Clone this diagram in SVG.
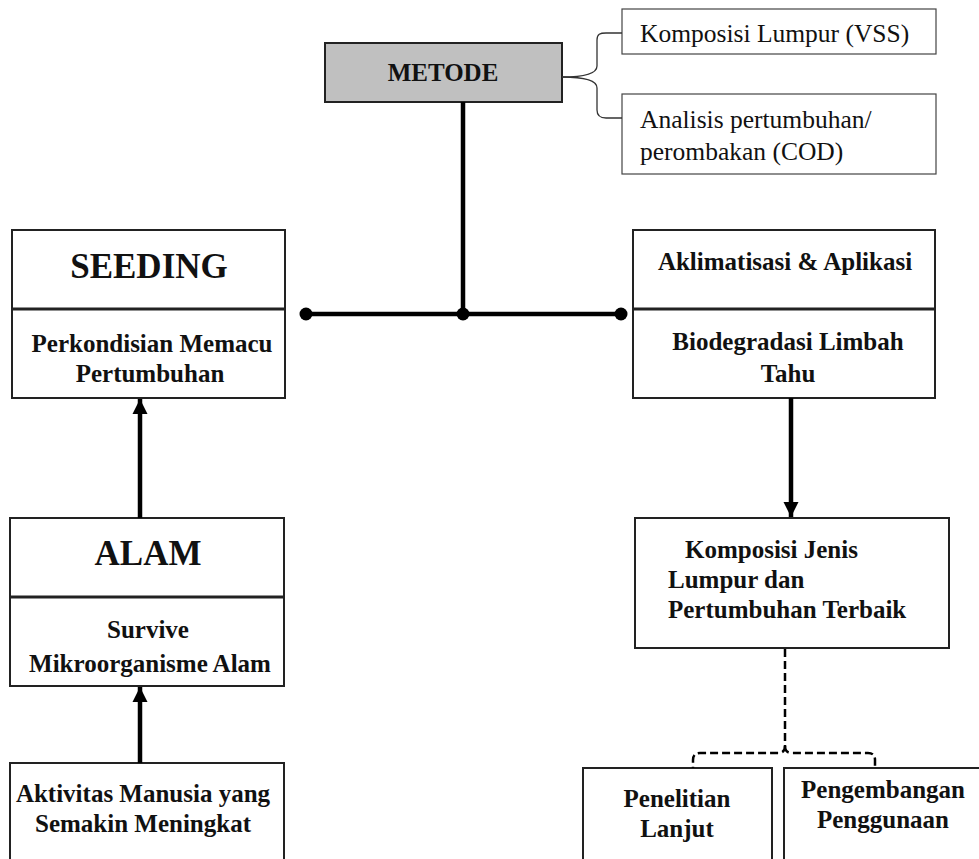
<svg xmlns="http://www.w3.org/2000/svg" width="979" height="859" viewBox="0 0 979 859">
<style>
.box{fill:#fff;stroke:#222;stroke-width:2}
.thin{fill:#fff;stroke:#444;stroke-width:1.2}
.b{font-family:"Liberation Serif","Times New Roman",serif;font-weight:bold;font-size:25px;fill:#111}
.big{font-family:"Liberation Serif","Times New Roman",serif;font-weight:bold;font-size:35px;fill:#111}
.r{font-family:"Liberation Serif","Times New Roman",serif;font-size:25.5px;fill:#111}
.c{text-anchor:middle}
.line{stroke:#000;stroke-width:4.5;fill:none}
.dash{stroke:#000;stroke-width:2.5;fill:none;stroke-dasharray:8 4}
</style>
<defs>
<marker id="ah" markerWidth="3.4" markerHeight="3.4" refX="3.4" refY="1.7" orient="auto" markerUnits="strokeWidth">
<path d="M0,0 L3.4,1.7 L0,3.4 Z" fill="#000"/>
</marker>
</defs>

<g id="metode">
<rect x="325" y="43" width="237" height="59" fill="#c0c0c0" stroke="#222" stroke-width="2"/>
<text class="b c" x="443" y="81">METODE</text>
</g>
<g id="vss">
<rect class="thin" x="622" y="9" width="314" height="45"/>
<text class="r" x="640" y="42">Komposisi Lumpur (VSS)</text>
</g>
<g id="cod">
<rect class="thin" x="622" y="94" width="314" height="80"/>
<text class="r" x="640" y="128">Analisis pertumbuhan/</text>
<text class="r" x="640" y="160">perombakan (COD)</text>
</g>
<g id="seeding">
<rect class="box" x="12" y="230" width="273" height="168"/>
<line x1="12" y1="309" x2="285" y2="309" stroke="#222" stroke-width="3"/>
<text class="big c" x="149" y="278">SEEDING</text>
<text class="b c" x="152" y="352">Perkondisian Memacu</text>
<text class="b c" x="150" y="382">Pertumbuhan</text>
</g>
<g id="aklimatisasi">
<rect class="box" x="633" y="230" width="302" height="168"/>
<line x1="633" y1="309" x2="935" y2="309" stroke="#222" stroke-width="3"/>
<text class="b c" x="785" y="270">Aklimatisasi &amp; Aplikasi</text>
<text class="b c" x="788" y="350">Biodegradasi Limbah</text>
<text class="b c" x="788" y="382">Tahu</text>
</g>
<g id="alam">
<rect class="box" x="10" y="518" width="274" height="168"/>
<line x1="10" y1="597" x2="284" y2="597" stroke="#222" stroke-width="3"/>
<text class="big c" x="148" y="565">ALAM</text>
<text class="b c" x="148" y="638">Survive</text>
<text class="b c" x="150" y="672">Mikroorganisme Alam</text>
</g>
<g id="aktivitas">
<rect class="box" x="10" y="763" width="274" height="110"/>
<text class="b c" x="143" y="802">Aktivitas Manusia yang</text>
<text class="b c" x="143" y="832">Semakin Meningkat</text>
</g>
<g id="komposisi">
<rect class="box" x="635" y="518" width="314" height="130"/>
<text class="b" x="685" y="558">Komposisi Jenis</text>
<text class="b" x="668" y="588">Lumpur dan</text>
<text class="b" x="668" y="618">Pertumbuhan Terbaik</text>
</g>
<g id="penelitian">
<rect class="box" x="583" y="768" width="189" height="110"/>
<text class="b c" x="677" y="807">Penelitian</text>
<text class="b c" x="677" y="837">Lanjut</text>
</g>
<g id="pengembangan">
<rect class="box" x="784" y="768" width="210" height="110"/>
<text class="b c" x="883" y="798">Pengembangan</text>
<text class="b c" x="883" y="828">Penggunaan</text>
</g>

<g id="connectors">
<line class="line" x1="463" y1="102" x2="463" y2="314"/>
<line class="line" x1="306" y1="314" x2="621" y2="314"/>
<circle cx="306" cy="314" r="6.5" fill="#000"/>
<circle cx="463" cy="314" r="6.5" fill="#000"/>
<circle cx="621" cy="314" r="6.5" fill="#000"/>
<path d="M562,77 C585,77 597,74 597,66 L597,40 C597,34 600,33 606,33 L622,33" stroke="#333" stroke-width="1.3" fill="none"/>
<path d="M562,77 C585,77 597,80 597,88 L597,110 C597,116 600,118 606,118 L622,118" stroke="#333" stroke-width="1.3" fill="none"/>
<line class="line" x1="140" y1="518" x2="140" y2="399" marker-end="url(#ah)"/>
<line class="line" x1="140" y1="763" x2="140" y2="687" marker-end="url(#ah)"/>
<line class="line" x1="791" y1="398" x2="791" y2="517" marker-end="url(#ah)"/>
<path class="dash" d="M785,649 L785,746 Q785,753 778,753 L700,753 Q693,753 693,760 L693,768"/>
<path class="dash" d="M785,746 Q785,753 792,753 L868,753 Q875,753 875,760 L875,768"/>
</g>
</svg>
